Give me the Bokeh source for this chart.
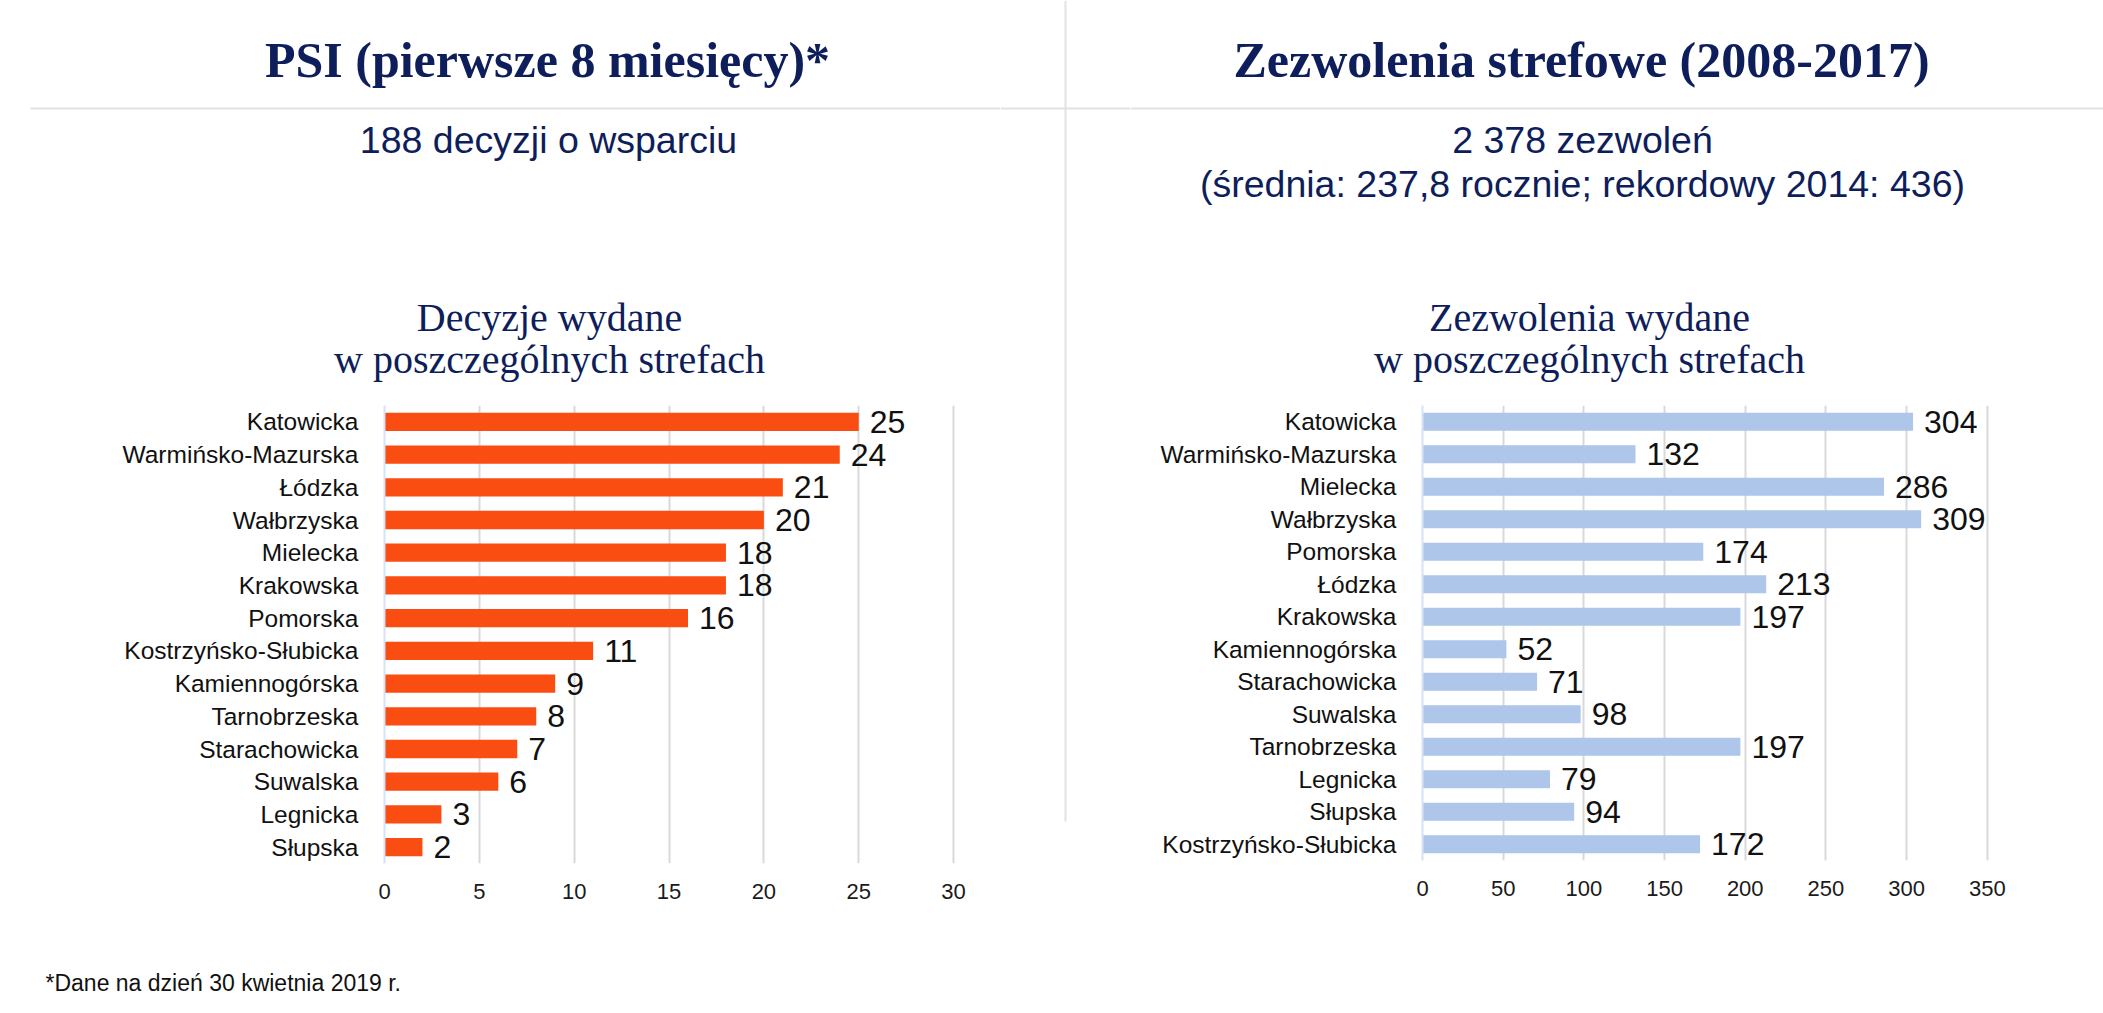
from bokeh.plotting import figure
from bokeh.models import Range1d, FactorRange, FixedTicker, Row, Column
from bokeh.core.properties import value
from bokeh.embed import file_html
from bokeh.resources import INLINE

# ---------------- data ----------------
psi_zones = ["Katowicka", "Warmińsko-Mazurska", "Łódzka", "Wałbrzyska", "Mielecka",
             "Krakowska", "Pomorska", "Kostrzyńsko-Słubicka", "Kamiennogórska",
             "Tarnobrzeska", "Starachowicka", "Suwalska", "Legnicka", "Słupska"]
psi_values = [25, 24, 21, 20, 18, 18, 16, 11, 9, 8, 7, 6, 3, 2]
psi_ticks = [0, 5, 10, 15, 20, 25, 30]

sez_zones = ["Katowicka", "Warmińsko-Mazurska", "Mielecka", "Wałbrzyska", "Pomorska",
             "Łódzka", "Krakowska", "Kamiennogórska", "Starachowicka", "Suwalska",
             "Tarnobrzeska", "Legnicka", "Słupska", "Kostrzyńsko-Słubicka"]
sez_values = [304, 132, 286, 309, 174, 213, 197, 52, 71, 98, 197, 79, 94, 172]
sez_ticks = [0, 50, 100, 150, 200, 250, 300, 350]

title_left = "PSI (pierwsze 8 miesięcy)*"
title_right = "Zezwolenia strefowe (2008-2017)"
sub_left = "188 decyzji o wsparciu"
sub_right_1 = "2 378 zezwoleń"
sub_right_2 = "(średnia: 237,8 rocznie; rekordowy 2014: 436)"
chart_title_left = ["Decyzje wydane", "w poszczególnych strefach"]
chart_title_right = ["Zezwolenia wydane", "w poszczególnych strefach"]
footnote = "*Dane na dzień 30 kwietnia 2019 r."

NAVY = "#0e1e5b"
ORANGE = "#f94d12"
BLUE = "#adc6ea"
GRID = "#d9d9d9"
SEP = "#e2e2e2"
SANS = "Liberation Sans"
SERIF = "Liberation Serif"


def blank(w, h):
    f = figure(width=w, height=h, x_range=Range1d(0, w), y_range=Range1d(h, 0),
               x_axis_type=None, y_axis_type=None, output_backend="svg",
               toolbar_location=None, min_border=0, frame_align=False)
    f.grid.visible = False
    f.outline_line_color = None
    return f


def header(w, x_title, x_sub, sub_lines, x_ct, ct_lines, title, line_x0):
    h = blank(w, 395)
    h.segment(x0=[line_x0], y0=[108], x1=[w], y1=[108], line_color=SEP, line_width=2)
    h.text(x=[x_title], y=[59], text=[title],
           text_font=value(SERIF), text_font_style="bold", text_font_size="50px",
           text_align="center", text_baseline="alphabetic", text_color=NAVY)
    h.text(x=[x_sub] * len(sub_lines), y=[139, 183][:len(sub_lines)], text=sub_lines,
           text_font=value(SANS), text_font_size="37.5px",
           text_align="center", text_baseline="alphabetic", text_color=NAVY)
    h.text(x=[x_ct, x_ct], y=[317, 359], text=ct_lines,
           text_font=value(SERIF), text_font_size="40px",
           text_align="center", text_baseline="alphabetic", text_color=NAVY)
    return h


# ---------------- bar charts ----------------
def bar_chart(zones, values, ticks, xmax, color, width, bl, br, bt, bb):
    p = figure(width=width, height=510, y_range=FactorRange(factors=zones[::-1], range_padding=0),
               x_range=Range1d(0, xmax), output_backend="svg", toolbar_location=None,
               min_border_left=bl, min_border_right=br, min_border_top=bt, min_border_bottom=bb,
               frame_align=False)
    p.outline_line_color = None
    p.hbar(y=zones, right=values, left=0, height=0.56, fill_color=color, line_color=None)
    p.text(x=values, y=zones, text=[str(v) for v in values], x_offset=11,
           text_font=value(SANS), text_font_size="32px", text_baseline="middle",
           text_align="left", text_color="#111111")
    p.xaxis.ticker = FixedTicker(ticks=ticks)
    p.xgrid.ticker = FixedTicker(ticks=ticks)
    p.xgrid.grid_line_color = GRID
    p.xgrid.grid_line_width = 2
    p.ygrid.grid_line_color = None
    p.xaxis.axis_line_color = None
    p.xaxis.major_tick_line_color = None
    p.xaxis.minor_tick_line_color = None
    p.xaxis.major_label_text_font = SANS
    p.xaxis.major_label_text_font_size = "22px"
    p.xaxis.major_label_text_color = "#1a1a1a"
    p.xaxis.major_label_standoff = 14
    p.yaxis.axis_line_color = "#d6e2f5"
    p.yaxis.axis_line_width = 2
    p.yaxis.major_tick_line_color = None
    p.yaxis.minor_tick_line_color = None
    p.yaxis.major_label_text_font = SANS
    p.yaxis.major_label_text_font_size = "24.5px"
    p.yaxis.major_label_text_color = "#111111"
    p.yaxis.major_label_standoff = 20
    return p


hdr_left = header(1000, 547, 548, [sub_left], 549, chart_title_left, title_left, 30)
left = bar_chart(psi_zones, psi_values, psi_ticks, 32, ORANGE, 1000, 384, 9, 10, 42)
ftr = blank(1000, 108)
ftr.text(x=[45], y=[77], text=[footnote], text_font=value(SANS), text_font_size="23px",
         text_align="left", text_baseline="alphabetic", text_color="#111111")

sep = blank(130, 1013)
sep.segment(x0=[65], y0=[0], x1=[65], y1=[821], line_color=SEP, line_width=2)
sep.segment(x0=[0], y0=[108], x1=[130], y1=[108], line_color=SEP, line_width=2)

hdr_right = header(973, 1581 - 1130, 1582 - 1130, [sub_right_1, sub_right_2],
                   1589 - 1130, chart_title_right, title_right, 0)
right = bar_chart(sez_zones, sez_values, sez_ticks, 365, BLUE, 973, 292, 92, 10, 45)

layout = Row(children=[Column(children=[hdr_left, left, ftr], spacing=0),
                       sep,
                       Column(children=[hdr_right, right], spacing=0)], spacing=0)

with open("out.html", "w") as fh:
    fh.write(file_html(layout, INLINE))
